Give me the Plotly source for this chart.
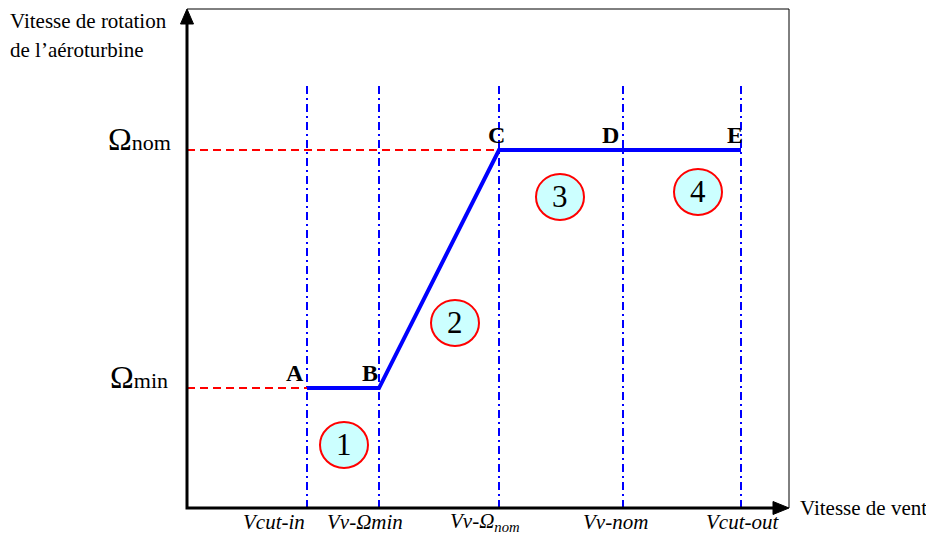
import plotly.graph_objects as go

# ---------------- data ----------------
point_names = ["A", "B", "C", "D", "E"]
wind_speed = [3.0, 4.8, 7.8, 10.9, 13.85]          # V_cut-in, V_v-Omega_min, V_v-Omega_nom, V_v-nom, V_cut-out
omega_min = 0.335
omega_nom = 1.0
rotor_speed = [omega_min, omega_min, omega_nom, omega_nom, omega_nom]
tick_labels = [
    "<i>Vcut-in</i>",
    "<i>Vν-Ωmin</i>",
    "<i>Vν-Ω</i><sub><i>nom</i></sub>",
    "<i>Vν-nom</i>",
    "<i>Vcut-out</i>",
]
region_names = ["1", "2", "3", "4"]
region_x = [3.925, 6.7, 9.325, 12.775]
region_y = [0.176, 0.517, 0.869, 0.883]

# ---------------- layout geometry ----------------
PAGE_W, PAGE_H = 934, 537
BODY = 8                        # default page body margin
W, H = PAGE_W - BODY, PAGE_H - BODY
X0PX, Y0PX = 187, 508           # page pixel position of origin
KX, KY = 40.0, 358.0            # pixels per unit
xr = [(BODY - X0PX) / KX, (PAGE_W - X0PX) / KX]
yr = [(Y0PX - PAGE_H) / KY, (Y0PX - BODY) / KY]

def dx(px):
    return (px - X0PX) / KX

def dy(py):
    return (Y0PX - py) / KY

SERIF = "Liberation Serif, Times New Roman, serif"
BLUE = "#0000ff"
RED = "#ff0000"

fig = go.Figure()

# frame (thin) top & right
y_top = dy(9)
x_right = dx(789)
fig.add_trace(go.Scatter(x=[0, x_right, x_right], y=[y_top, y_top, 0], mode="lines",
                         line=dict(color="black", width=1), hoverinfo="skip", showlegend=False))

# vertical dash-dot lines
v_top = dy(82)
for v in wind_speed:
    fig.add_trace(go.Scatter(x=[v, v], y=[0, v_top], mode="lines",
                             line=dict(color=BLUE, width=2, dash="8px,4px,2px,4px"),
                             hoverinfo="skip", showlegend=False))

# red dashed horizontal guides
fig.add_trace(go.Scatter(x=[0, wind_speed[0]], y=[omega_min, omega_min], mode="lines",
                         line=dict(color=RED, width=2, dash="8px,5px"), hoverinfo="skip", showlegend=False))
fig.add_trace(go.Scatter(x=[0, wind_speed[2]], y=[omega_nom, omega_nom], mode="lines",
                         line=dict(color=RED, width=2, dash="8px,5px"), hoverinfo="skip", showlegend=False))

# main characteristic
fig.add_trace(go.Scatter(x=wind_speed, y=rotor_speed, mode="lines",
                         line=dict(color=BLUE, width=4), hoverinfo="skip", showlegend=False))

# axes
fig.add_trace(go.Scatter(x=[0, 0, dx(775)], y=[dy(22), 0, 0], mode="lines",
                         line=dict(color="black", width=3), hoverinfo="skip", showlegend=False))
# arrowheads
fig.add_trace(go.Scatter(x=[-6.5 / KX, 0, 6.5 / KX, -6.5 / KX], y=[dy(24), dy(9), dy(24), dy(24)],
                         mode="lines", fill="toself", fillcolor="black", line=dict(color="black", width=1),
                         hoverinfo="skip", showlegend=False))
fig.add_trace(go.Scatter(x=[dx(773), dx(789), dx(773), dx(773)], y=[6.5 / KY, 0, -6.5 / KY, 6.5 / KY],
                         mode="lines", fill="toself", fillcolor="black", line=dict(color="black", width=1),
                         hoverinfo="skip", showlegend=False))

# region circles
rx, ry = 24 / KX, 23 / KY
for name, cx, cy in zip(region_names, region_x, region_y):
    fig.add_shape(type="circle", xref="x", yref="y", x0=cx - rx, x1=cx + rx, y0=cy - ry, y1=cy + ry,
                  line=dict(color=RED, width=2), fillcolor="#ccffff", layer="above")
    fig.add_annotation(x=cx, y=cy, text=name, showarrow=False, xanchor="center", yanchor="middle",
                       font=dict(family=SERIF, size=31, color="black"))

# point labels
label_dx = [-12 / KX, -9 / KX, -3 / KX, -13 / KX, -6 / KX]
for name, v, w, ddx in zip(point_names, wind_speed, rotor_speed, label_dx):
    fig.add_annotation(x=v + ddx, y=w + 15 / KY, text="<b>%s</b>" % name, showarrow=False,
                       xanchor="center", yanchor="middle", font=dict(family=SERIF, size=24, color="black"))

# Omega labels
fig.add_annotation(x=dx(139), y=omega_nom + 11 / KY, text="Ω<span style='font-size:22px'>nom</span>",
                   showarrow=False, xanchor="center", yanchor="middle",
                   font=dict(family=SERIF, size=32, color="black"))
fig.add_annotation(x=dx(139), y=omega_min + 11 / KY, text="Ω<span style='font-size:22px'>min</span>",
                   showarrow=False, xanchor="center", yanchor="middle",
                   font=dict(family=SERIF, size=32, color="black"))

# tick labels
tick_px = [274, 365, 485, 615, 742]
for t, px in zip(tick_labels, tick_px):
    fig.add_annotation(x=dx(px), y=dy(522), text=t, showarrow=False, xanchor="center", yanchor="middle",
                       font=dict(family=SERIF, size=21, color="black"))

# axis titles
fig.add_annotation(x=dx(798), y=dy(508), text="Vitesse de vent", showarrow=False,
                   xanchor="left", yanchor="middle", font=dict(family=SERIF, size=21, color="black"))
fig.add_annotation(x=dx(8), y=dy(21), text="Vitesse de rotation", showarrow=False,
                   xanchor="left", yanchor="middle", font=dict(family=SERIF, size=21, color="black"))
fig.add_annotation(x=dx(8), y=dy(50), text="de l’aéroturbine", showarrow=False,
                   xanchor="left", yanchor="middle", font=dict(family=SERIF, size=21, color="black"))

fig.update_layout(
    width=W, height=H, margin=dict(l=0, r=0, t=0, b=0),
    paper_bgcolor="white", plot_bgcolor="white",
    xaxis=dict(range=xr, visible=False, fixedrange=True),
    yaxis=dict(range=yr, visible=False, fixedrange=True),
    showlegend=False,
)

fig.write_html("out.html")
